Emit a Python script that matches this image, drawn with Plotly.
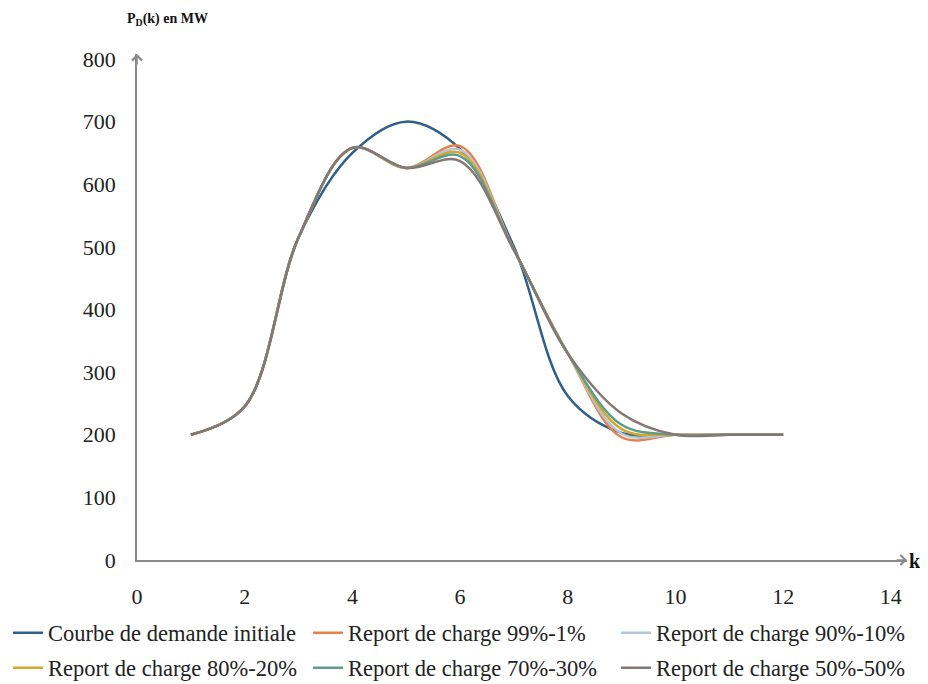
import plotly.graph_objects as go

k = [1, 2, 3, 4, 5, 6, 7, 8, 9, 10, 11, 12]
initiale = [200, 245, 515, 650, 700, 656, 500, 262, 203, 200, 200, 200]
r99_1 = [200, 245, 515, 658, 626, 661, 495, 330, 196, 200, 200, 200]
r90_10 = [200, 245, 515, 658, 626, 655, 495, 330, 202, 200, 200, 200]
r80_20 = [200, 245, 515, 658, 626, 650, 495, 330, 209, 200, 200, 200]
r70_30 = [200, 245, 515, 658, 626, 645, 495, 330, 216, 200, 200, 200]
r50_50 = [200, 245, 515, 658, 626, 637, 495, 330, 234, 200, 200, 200]

names = ["Courbe de demande initiale", "Report de charge 99%-1%", "Report de charge 90%-10%",
         "Report de charge 80%-20%", "Report de charge 70%-30%", "Report de charge 50%-50%"]
series = [initiale, r99_1, r90_10, r80_20, r70_30, r50_50]
colors = ["#2F5F8A", "#E8804E", "#AFC6DB", "#D4A82A", "#5E9C8C", "#857776"]

x_ticks = [0, 2, 4, 6, 8, 10, 12, 14]
y_ticks = [0, 100, 200, 300, 400, 500, 600, 700, 800]

font_family = "Liberation Serif, Times New Roman, serif"

W, H = 920, 676  # page body has an 8px margin
legend_ids = ["legend", "legend2", "legend3", "legend4", "legend5", "legend6"]
legend_px = [(0, 625), (300, 625), (608, 625), (0, 660), (300, 660), (608, 660)]

fig = go.Figure()
for name, vals, c, lg in zip(names, series, colors, legend_ids):
    fig.add_trace(go.Scatter(x=k, y=vals, mode="lines", name=name, legend=lg,
                             line=dict(color=c, width=2.5, shape="spline", smoothing=1.0)))

legends = {}
for lg, (px, py) in zip(legend_ids, legend_px):
    legends[lg] = dict(orientation="h", xref="container", yref="container",
                       x=px / W, xanchor="left", y=1 - py / H, yanchor="middle",
                       font=dict(size=22.5, color="#222"), itemwidth=30,
                       bgcolor="rgba(0,0,0,0)")

fig.update_layout(
    width=W, height=H,
    margin=dict(l=129, r=21, t=46, b=124, autoexpand=False),
    paper_bgcolor="white", plot_bgcolor="white",
    font=dict(family=font_family, size=22, color="#222"),
    xaxis=dict(range=[0, 14.3], tickvals=x_ticks, showgrid=False, zeroline=False,
               showline=True, linecolor="#8a8a8a", linewidth=1.5, ticks="",
               ticklabelstandoff=16, automargin=False, tickfont=dict(size=22, color="#222")),
    yaxis=dict(range=[0, 808], tickvals=y_ticks, showgrid=False, zeroline=False,
               showline=True, linecolor="#8a8a8a", linewidth=1.5, ticks="",
               ticklabelstandoff=15, automargin=False, tickfont=dict(size=22, color="#222")),
    showlegend=True,
    **legends,
)

# axis arrowheads
fig.add_annotation(x=14.3, y=0, xref="x", yref="y", ax=-12, ay=0, text="",
                   showarrow=True, arrowhead=4, arrowsize=1.3, arrowwidth=1.5,
                   arrowcolor="#8a8a8a")
fig.add_annotation(x=0, y=808, xref="x", yref="y", ax=0, ay=12, text="",
                   showarrow=True, arrowhead=4, arrowsize=1.3, arrowwidth=1.5,
                   arrowcolor="#8a8a8a")
# axis labels
fig.add_annotation(x=(899 - 129) / 770, y=-1 / 506, xref="paper", yref="paper",
                   text="<b>k</b>", showarrow=False, xanchor="left", yanchor="middle",
                   font=dict(size=20, color="#111"))
fig.add_annotation(x=(117 - 129) / 770, y=(552 - 12) / 506, xref="paper", yref="paper",
                   text="<b>P<sub>D</sub>(k) en MW</b>", showarrow=False,
                   xanchor="left", yanchor="middle", font=dict(size=14, color="#111"))

fig.write_html("out.html")
